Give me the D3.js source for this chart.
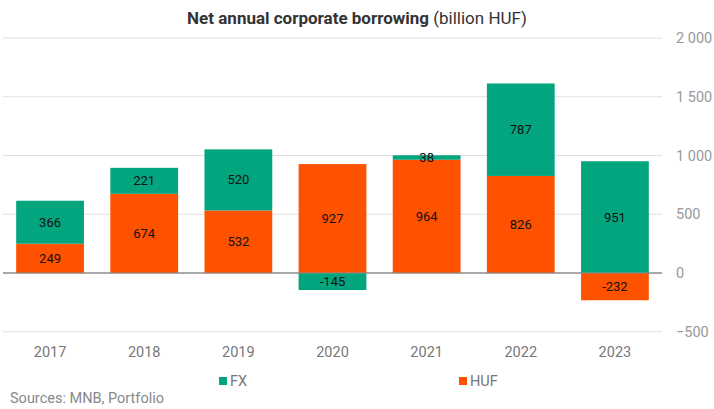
<!DOCTYPE html>
<html><head><meta charset="utf-8">
<script src="https://cdn.jsdelivr.net/npm/d3@7"></script>
<style>body{margin:0;background:#fff;font-family:Roboto,sans-serif}</style>
</head><body><svg id="c" width="714" height="409"></svg>
<script>
const years = ["2017","2018","2019","2020","2021","2022","2023"];
const huf = [249, 674, 532, 927, 964, 826, -232];
const fx = [366, 221, 520, -145, 38, 787, 951];
const yTicks = [-500, 0, 500, 1000, 1500, 2000];

const svg = d3.select("#c");
const x = d3.scaleBand().domain(years).range([3, 662]).paddingInner(0.28).paddingOuter(0.14);
const y = d3.scaleLinear().domain([-500, 2000]).range([331.75, 38]);
const fmt = v => d3.format(",")(v).replace(/,/g, " ");

// grid
svg.append("g").selectAll("line").data(yTicks).join("line")
  .attr("x1", 3).attr("x2", 662)
  .attr("y1", d => y(d)).attr("y2", d => y(d))
  .attr("stroke", d => d === 0 ? "#8c8c8c" : "#e0e0e0").attr("stroke-width", 1);

// right axis labels
svg.append("g").selectAll("text").data(yTicks).join("text")
  .attr("x", 676).attr("y", d => y(d)).attr("dy", "0.35em")
  .attr("font-size", 14.5).attr("fill", "#999").text(d => fmt(d));

// stacks
const rows = years.map((yr, i) => {
  const segs = [];
  let pos = 0, neg = 0;
  [["huf", huf[i]], ["fx", fx[i]]].forEach(([k, v]) => {
    let y0, y1;
    if (v >= 0) { y0 = pos; y1 = pos + v; pos = y1; } else { y0 = neg; y1 = neg + v; neg = y1; }
    segs.push({ yr, k, v, y0, y1 });
  });
  return segs;
}).flat();

const color = { huf: "#fe5200", fx: "#03a57e" };
svg.append("g").selectAll("rect").data(rows).join("rect")
  .attr("x", d => x(d.yr)).attr("width", x.bandwidth())
  .attr("y", d => y(Math.max(d.y0, d.y1)))
  .attr("height", d => Math.abs(y(d.y0) - y(d.y1)))
  .attr("fill", d => color[d.k]);

// zero line on top of bars
svg.append("line").attr("x1", 3).attr("x2", 662).attr("y1", y(0)).attr("y2", y(0))
  .attr("stroke", "#8c8c8c").attr("stroke-width", 1);

svg.append("g").selectAll("text").data(rows).join("text")
  .attr("x", d => x(d.yr) + x.bandwidth() / 2)
  .attr("y", d => y((d.y0 + d.y1) / 2)).attr("dy", "0.35em")
  .attr("text-anchor", "middle").attr("font-size", 13).attr("fill", "#111")
  .text(d => d.v);

// x labels
svg.append("g").selectAll("text").data(years).join("text")
  .attr("x", d => x(d) + x.bandwidth() / 2).attr("y", 357)
  .attr("text-anchor", "middle").attr("font-size", 14.5).attr("fill", "#777").text(d => d);

// title
const t = svg.append("text").attr("x", 357).attr("y", 24).attr("text-anchor", "middle")
  .attr("font-size", 17).attr("fill", "#333");
t.append("tspan").attr("font-weight", "bold").text("Net annual corporate borrowing");
t.append("tspan").text(" (billion HUF)");

// legend
const leg = [["FX", "fx", 219], ["HUF", "huf", 459]];
leg.forEach(([lab, k, lx]) => {
  svg.append("rect").attr("x", lx).attr("y", 377).attr("width", 8).attr("height", 8).attr("fill", color[k]);
  svg.append("text").attr("x", lx + 11).attr("y", 386).attr("font-size", 14.5).attr("fill", "#777").text(lab);
});

svg.append("text").attr("x", 10).attr("y", 403).attr("font-size", 14.5).attr("fill", "#888").text("Sources: MNB, Portfolio");
</script></body></html>
